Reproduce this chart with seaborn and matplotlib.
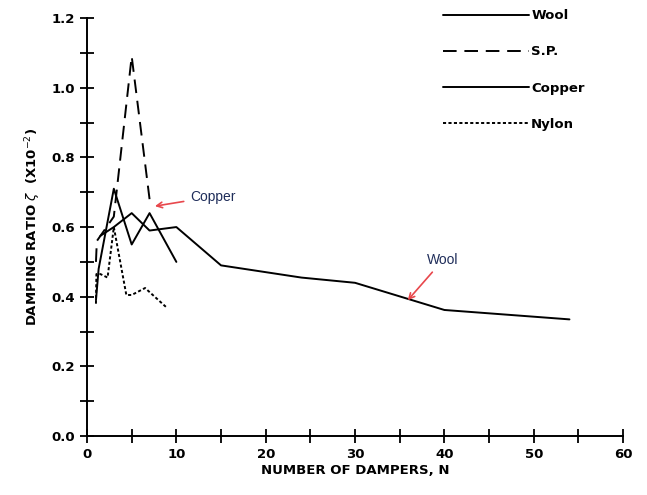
import numpy as np
import pandas as pd
import matplotlib
matplotlib.use("Agg")
import matplotlib.pyplot as plt
import seaborn as sns
from matplotlib.ticker import MultipleLocator

# values
wool_n = [1.5, 3, 5, 7, 10, 15, 24, 30, 40, 54]
wool_z = [0.575, 0.60, 0.64, 0.59, 0.60, 0.49, 0.455, 0.44, 0.362, 0.335]

sp_n = [1, 1.1, 3, 5, 7]
sp_z = [0.50, 0.56, 0.63, 1.09, 0.68]

copper_n = [1, 1.3, 3, 5, 7, 10]
copper_z = [0.39, 0.48, 0.71, 0.55, 0.64, 0.50]

nylon_n = [1, 1.05, 1.5, 2.3, 3, 4.4, 5, 6.5, 9]
nylon_z = [0.38, 0.465, 0.465, 0.455, 0.60, 0.405, 0.405, 0.425, 0.367]

series = [
    ("Wool", wool_n, wool_z, "-"),
    ("S.P.", sp_n, sp_z, (0, (7, 4))),
    ("Copper", copper_n, copper_z, "-"),
    ("Nylon", nylon_n, nylon_z, (0, (1.6, 1.2))),
]

sns.set_style("ticks")
plt.rcParams["font.family"] = ["DejaVu Sans"]
plt.rcParams["text.color"] = "black"
plt.rcParams["axes.labelcolor"] = "black"

fig = plt.figure(figsize=(6.47, 4.95), dpi=100)
ax = fig.add_axes([0.1345, 0.119, 0.963 - 0.1345, 0.9636 - 0.119])

for name, n, z, ls in series:
    df = pd.DataFrame({"N": n, "zeta": z})
    sns.lineplot(data=df, x="N", y="zeta", sort=False, color="black",
                 linewidth=1.4, linestyle=ls, ax=ax, label=name)

ax.set_xlim(0, 60)
ax.set_ylim(0, 1.2)
ax.xaxis.set_major_locator(MultipleLocator(10))
ax.xaxis.set_minor_locator(MultipleLocator(5))
ax.yaxis.set_major_locator(MultipleLocator(0.2))
ax.yaxis.set_minor_locator(MultipleLocator(0.1))
ax.yaxis.set_major_formatter(matplotlib.ticker.FormatStrFormatter("%.1f"))
ax.tick_params(which="both", direction="inout", length=10, width=1.3,
               labelsize=9.5, colors="black")
for lab in ax.get_xticklabels() + ax.get_yticklabels():
    lab.set_fontweight("bold")
for s in ["top", "right"]:
    ax.spines[s].set_visible(False)
for s in ["left", "bottom"]:
    ax.spines[s].set_linewidth(1.4)
    ax.spines[s].set_color("black")

ax.set_xlabel("NUMBER OF DAMPERS, N", fontsize=9.5, fontweight="bold", labelpad=2)
ax.set_ylabel(r"DAMPING RATIO $\zeta$  (X10$^{-2}$)", fontsize=9.5,
              fontweight="bold", labelpad=6)

ax.legend(loc="upper left", bbox_to_anchor=(0.666, 1.005), bbox_transform=fig.transFigure,
          frameon=False, handlelength=6.5, handletextpad=0.2, labelspacing=1.75,
          prop={"size": 9.5, "weight": "bold"})

# red annotations
ax.annotate("Copper", xy=(7.6, 0.66), xytext=(11.5, 0.687), color="#1f2d5a",
            fontsize=10, family="Liberation Sans", va="center",
            arrowprops=dict(arrowstyle="->", color="#e8474c", lw=1.2,
                            shrinkA=2, shrinkB=0))
ax.annotate("Wool", xy=(35.9, 0.39), xytext=(38.1, 0.506), color="#1f2d5a",
            fontsize=10, family="Liberation Sans", va="center",
            arrowprops=dict(arrowstyle="->", color="#e8474c", lw=1.2,
                            shrinkA=2, shrinkB=0))

fig.savefig("out.png", dpi=100)
